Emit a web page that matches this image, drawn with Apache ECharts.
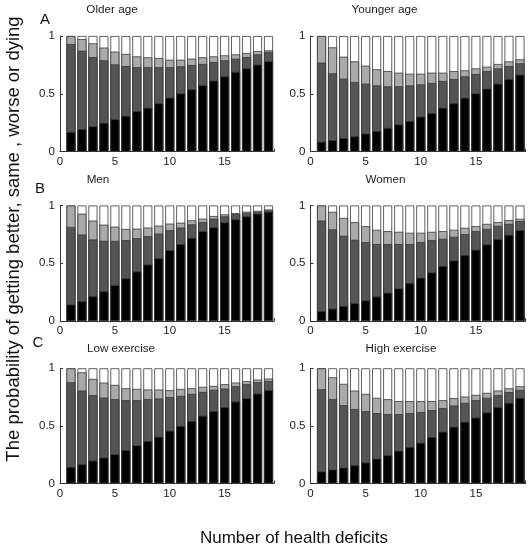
<!DOCTYPE html>
<html>
<head>
<meta charset="utf-8">
<script src="https://cdn.jsdelivr.net/npm/echarts@6/dist/echarts.min.js"></script>
<style>html,body{margin:0;padding:0;background:#fff}#c{width:531px;height:550px}</style>
</head>
<body>
<div id="c"></div>
<script>
// Number of health deficits (x categories)
const deficits = [1,2,3,4,5,6,7,8,9,10,11,12,13,14,15,16,17,18,19];
const xTickLabels = [0, 5, 10, 15];
const yTickLabels = [0, 0.5, 1];
// Cumulative probability levels (top of black, top of dark gray, top of light gray); white reaches total = 1
const total = [1,1,1,1,1,1,1,1,1,1,1,1,1,1,1,1,1,1,1];

const olderBlack = [0.17,0.196,0.219,0.25,0.28,0.31,0.35,0.38,0.418,0.467,0.504,0.539,0.576,0.614,0.651,0.69,0.72,0.752,0.784];
const olderDark  = [0.93,0.873,0.818,0.79,0.755,0.74,0.73,0.73,0.73,0.73,0.738,0.749,0.758,0.775,0.79,0.804,0.818,0.841,0.862];
const olderLight = [1.0,0.974,0.937,0.90,0.865,0.845,0.824,0.816,0.81,0.795,0.795,0.804,0.816,0.824,0.833,0.841,0.853,0.87,0.876];

const youngerBlack = [0.086,0.10,0.118,0.133,0.156,0.179,0.205,0.236,0.265,0.303,0.334,0.38,0.418,0.467,0.504,0.545,0.588,0.628,0.666];
const youngerDark  = [0.77,0.677,0.631,0.602,0.588,0.573,0.565,0.565,0.573,0.582,0.594,0.611,0.628,0.651,0.671,0.697,0.72,0.74,0.764];
const youngerLight = [1.0,0.902,0.821,0.781,0.744,0.712,0.697,0.683,0.674,0.674,0.683,0.683,0.697,0.703,0.72,0.735,0.758,0.781,0.798];

const menBlack = [0.143,0.171,0.214,0.257,0.311,0.369,0.429,0.489,0.543,0.614,0.666,0.72,0.777,0.811,0.854,0.88,0.906,0.929,0.946];
const menDark  = [0.814,0.749,0.706,0.694,0.694,0.70,0.717,0.734,0.757,0.786,0.809,0.837,0.857,0.886,0.906,0.926,0.937,0.946,0.957];
const menLight = [1.0,0.929,0.869,0.834,0.817,0.797,0.80,0.809,0.826,0.843,0.851,0.871,0.886,0.909,0.923,0.934,0.946,0.954,0.966];

const womenBlack = [0.086,0.107,0.13,0.153,0.179,0.213,0.245,0.282,0.329,0.375,0.421,0.476,0.524,0.571,0.617,0.663,0.709,0.746,0.787];
const womenDark  = [0.87,0.793,0.738,0.703,0.683,0.666,0.666,0.666,0.666,0.683,0.70,0.712,0.729,0.752,0.778,0.798,0.824,0.841,0.865];
const womenLight = [1.0,0.945,0.893,0.856,0.821,0.79,0.778,0.772,0.764,0.764,0.772,0.778,0.79,0.807,0.821,0.841,0.856,0.873,0.885];

const lowExBlack = [0.144,0.167,0.199,0.225,0.254,0.291,0.331,0.369,0.406,0.458,0.499,0.542,0.588,0.628,0.663,0.712,0.741,0.781,0.81];
const lowExDark  = [0.879,0.807,0.767,0.746,0.732,0.723,0.723,0.732,0.738,0.749,0.761,0.778,0.795,0.813,0.824,0.844,0.862,0.879,0.89];
const lowExLight = [1.0,0.965,0.908,0.876,0.856,0.827,0.821,0.816,0.816,0.81,0.821,0.827,0.839,0.847,0.862,0.876,0.888,0.902,0.911];

const highExBlack = [0.104,0.121,0.138,0.158,0.182,0.216,0.245,0.285,0.317,0.354,0.403,0.45,0.493,0.536,0.573,0.617,0.663,0.70,0.744];
const highExDark  = [0.818,0.732,0.68,0.646,0.628,0.611,0.602,0.602,0.611,0.62,0.637,0.654,0.677,0.70,0.723,0.744,0.767,0.793,0.813];
const highExLight = [1.0,0.922,0.865,0.807,0.778,0.744,0.732,0.715,0.715,0.715,0.715,0.723,0.741,0.755,0.769,0.787,0.807,0.827,0.844];

const panelTitles = ['Older age','Younger age','Men','Women','Low exercise','High exercise'];
const panelLetters = ['A','B','C'];
const yTitle = 'The probability of getting better, same , worse or dying';
const xTitle = 'Number of health deficits';

const panels = [
  [olderBlack, olderDark, olderLight],
  [youngerBlack, youngerDark, youngerLight],
  [menBlack, menDark, menLight],
  [womenBlack, womenDark, womenLight],
  [lowExBlack, lowExDark, lowExLight],
  [highExBlack, highExDark, highExLight]
];

const FONT = 'Liberation Sans, Arial, sans-serif';
const gridPos = [
  {left: 60, top: 36, width: 214, height: 115.7},
  {left: 310.5, top: 36, width: 215, height: 115.7},
  {left: 60, top: 205.5, width: 214, height: 115.5},
  {left: 310.5, top: 205.5, width: 215, height: 115.5},
  {left: 60, top: 368.3, width: 214, height: 115.2},
  {left: 310.5, top: 368.3, width: 215, height: 115.2}
];
const titlePos = [[112,10],[384.5,10],[98,179.5],[385.5,179.5],[121,349],[401,349]];
const letterPos = [[45,20],[40,189],[38,343]];

const grid = [], xAxis = [], yAxis = [], series = [];
const fills = ['#ffffff', '#aaaaaa', '#555555', '#000000'];
panels.forEach((p, i) => {
  grid.push(Object.assign({containLabel: false}, gridPos[i]));
  xAxis.push({
    type: 'value', gridIndex: i, min: 0, max: 19.5, interval: 5,
    splitLine: {show: false},
    axisLine: {show: true, onZero: false, lineStyle: {color: '#333', width: 1}},
    axisTick: {show: true, inside: true, length: 3, lineStyle: {color: '#333'}},
    axisLabel: {color: '#222', fontSize: 11.5, fontFamily: FONT, margin: 4,
      formatter: v => (xTickLabels.indexOf(v) >= 0 ? String(v) : '')}
  });
  yAxis.push({
    type: 'value', gridIndex: i, min: 0, max: 1, interval: 0.5,
    splitLine: {show: false},
    axisLine: {show: true, lineStyle: {color: '#333', width: 1}},
    axisTick: {show: true, inside: true, length: 3, lineStyle: {color: '#333'}},
    axisLabel: {color: '#222', fontSize: 11.5, fontFamily: FONT, margin: 5,
      formatter: v => (yTickLabels.indexOf(v) >= 0 ? String(v) : '')}
  });
  const levels = [total, p[2], p[1], p[0]];
  levels.forEach((arr, k) => {
    series.push({
      type: 'bar', xAxisIndex: i, yAxisIndex: i,
      data: deficits.map((d, j) => [d, arr[j]]),
      barWidth: 9, barGap: '-100%',
      itemStyle: {color: fills[k], borderColor: '#3a3a3a', borderWidth: 0.8},
      silent: true, animation: false, z: 2 + k
    });
  });
});

const graphic = [];
panelTitles.forEach((t, i) => {
  graphic.push({type: 'text', x: titlePos[i][0], y: titlePos[i][1],
    style: {text: t, fill: '#222', font: '11.7px ' + FONT, align: 'center', verticalAlign: 'middle'}});
});
panelLetters.forEach((t, i) => {
  graphic.push({type: 'text', x: letterPos[i][0], y: letterPos[i][1],
    style: {text: t, fill: '#111', font: '15px ' + FONT, align: 'center', verticalAlign: 'middle'}});
});
graphic.push({type: 'text', x: 14, y: 239, rotation: Math.PI / 2,
  style: {text: yTitle, fill: '#111', font: '18.5px ' + FONT, align: 'center', verticalAlign: 'middle'}});
graphic.push({type: 'text', x: 294, y: 538,
  style: {text: xTitle, fill: '#111', font: '17px ' + FONT, align: 'center', verticalAlign: 'middle'}});

const chart = echarts.init(document.getElementById('c'), null, {renderer: 'canvas'});
chart.setOption({animation: false, backgroundColor: '#fff', grid, xAxis, yAxis, series, graphic});
</script>
</body>
</html>
